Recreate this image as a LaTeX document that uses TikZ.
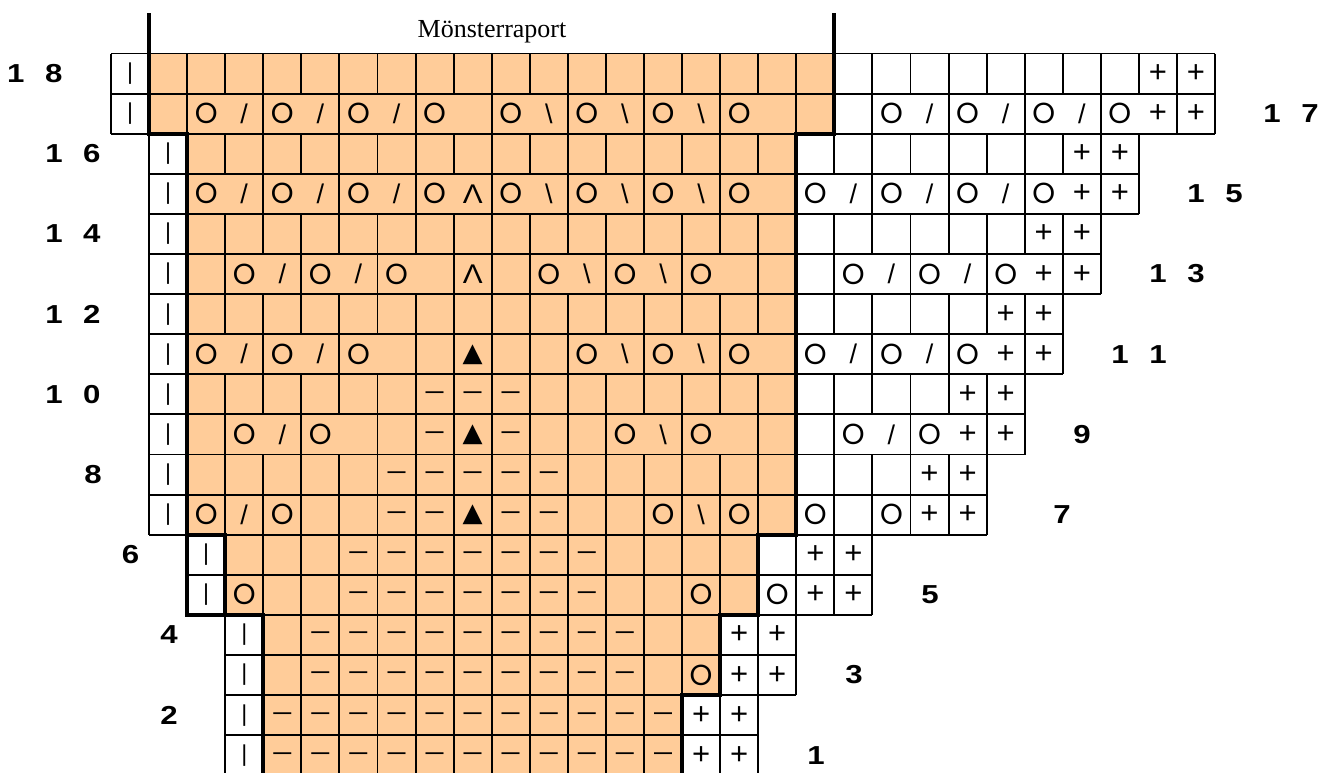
\documentclass[tikz,border=0pt]{standalone}
\usepackage{graphicx}
\usepackage{fontspec}
\setmainfont{Liberation Sans}
\newfontfamily\trif{DejaVu Sans}
\newfontfamily\serf{Liberation Serif}
\newfontfamily\geo{Poppins}
\definecolor{orng}{HTML}{FFCC99}
\tikzset{
  gridline/.style={line width=1.9pt,draw=black,line cap=square},
  outline/.style={line width=3.8pt,draw=black,line cap=butt},
  sym/.style={inner sep=0pt,anchor=center},
  lbl/.style={inner sep=0pt,anchor=center,font=\bfseries\fontsize{26}{26}\selectfont},
}
\newcommand\lb[1]{\scalebox{1.2}[1]{\spaceskip=17.1pt\relax #1}}
\def\kO{\geo\fontsize{29}{29}\selectfont O}
\def\ks{\fontsize{27}{27}\selectfont /}
\def\kb{\fontsize{27}{27}\selectfont\textbackslash}
\def\kL{\scalebox{1.1}[1]{\fontsize{27}{27}\selectfont Λ}}
\def\kT{\trif\fontsize{26}{26}\selectfont ▲}
\def\km{\bfseries\fontsize{18}{18}\selectfont —}
\def\kp{\fontsize{31}{31}\selectfont +}
\def\kv{\fontsize{23}{23}\selectfont\textbar}
\newcommand\knitrow[5]{%
  \pgfmathsetmacro\ytop{53.5+40.1*(18-#1)}%
  \foreach \s [count=\j from 0] in {#5}{%
    \pgfmathtruncatemacro\c{#2+\j}%
    \pgfmathsetmacro\xl{111+38.07*\c}%
    \ifnum\c<#3\relax\def\fc{white}\else\ifnum\c>#4\relax\def\fc{white}\else\def\fc{orng}\fi\fi
    \fill[\fc] (\xl,\ytop) rectangle ++(38.07,40.1);
    \xdef\lastc{\c}%
  }%
  \gdef\prev{x}%
  \foreach \s [count=\j from 0] in {#5}{%
    \pgfmathtruncatemacro\c{#2+\j}%
    \pgfmathsetmacro\xl{111+38.07*\c}%
    \draw[gridline] (\xl,\ytop) -- ++(38.07,0);
    \draw[gridline] (\xl,\ytop+40.1) -- ++(38.07,0);
    \ifnum#1>8\relax\if\prev O\def\dov{0}\else\def\dov{1}\fi\else\def\dov{1}\fi
    \if1\dov\draw[gridline] (\xl,\ytop) -- ++(0,40.1);\fi
    \if\s.\else\node[sym] (c#1-\c) at (\xl+19.035,\ytop+20.05) {\csname k\s\endcsname};\fi
    \xdef\prev{\s}%
  }%
  \pgfmathsetmacro\xr{111+38.07*(\lastc+1)}%
  \draw[gridline] (\xr,\ytop) -- ++(0,40.1);
}
\begin{document}
\begin{tikzpicture}[x=1pt,y=-1pt]
\useasboundingbox (0,0) rectangle (1321,772);
\clip (0,0) rectangle (1321,772);
\fill[white] (0,0) rectangle (1321,772);
\knitrow{18}{0}{1}{18}{v,.,.,.,.,.,.,.,.,.,.,.,.,.,.,.,.,.,.,.,.,.,.,.,.,.,.,p,p}
\knitrow{17}{0}{1}{18}{v,.,O,s,O,s,O,s,O,.,O,b,O,b,O,b,O,.,.,.,O,s,O,s,O,s,O,p,p}
\knitrow{16}{1}{2}{17}{v,.,.,.,.,.,.,.,.,.,.,.,.,.,.,.,.,.,.,.,.,.,.,.,p,p}
\knitrow{15}{1}{2}{17}{v,O,s,O,s,O,s,O,L,O,b,O,b,O,b,O,.,O,s,O,s,O,s,O,p,p}
\knitrow{14}{1}{2}{17}{v,.,.,.,.,.,.,.,.,.,.,.,.,.,.,.,.,.,.,.,.,.,.,p,p}
\knitrow{13}{1}{2}{17}{v,.,O,s,O,s,O,.,L,.,O,b,O,b,O,.,.,.,O,s,O,s,O,p,p}
\knitrow{12}{1}{2}{17}{v,.,.,.,.,.,.,.,.,.,.,.,.,.,.,.,.,.,.,.,.,.,p,p}
\knitrow{11}{1}{2}{17}{v,O,s,O,s,O,.,.,T,.,.,O,b,O,b,O,.,O,s,O,s,O,p,p}
\knitrow{10}{1}{2}{17}{v,.,.,.,.,.,.,m,m,m,.,.,.,.,.,.,.,.,.,.,.,p,p}
\knitrow{9}{1}{2}{17}{v,.,O,s,O,.,.,m,T,m,.,.,O,b,O,.,.,.,O,s,O,p,p}
\knitrow{8}{1}{2}{17}{v,.,.,.,.,.,m,m,m,m,m,.,.,.,.,.,.,.,.,.,p,p}
\knitrow{7}{1}{2}{17}{v,O,s,O,.,.,m,m,T,m,m,.,.,O,b,O,.,O,.,O,p,p}
\knitrow{6}{2}{3}{16}{v,.,.,.,m,m,m,m,m,m,m,.,.,.,.,.,p,p}
\knitrow{5}{2}{3}{16}{v,O,.,.,m,m,m,m,m,m,m,.,.,O,.,O,p,p}
\knitrow{4}{3}{4}{15}{v,.,m,m,m,m,m,m,m,m,m,.,.,p,p}
\knitrow{3}{3}{4}{15}{v,.,m,m,m,m,m,m,m,m,m,.,O,p,p}
\knitrow{2}{3}{4}{14}{v,m,m,m,m,m,m,m,m,m,m,m,p,p}
\knitrow{1}{3}{4}{14}{v,m,m,m,m,m,m,m,m,m,m,m,p,p}
% thick outline of the pattern repeat
\draw[outline] (149.07,13) -- (149.07,133.7) -- (187.14,133.7) -- (187.14,534.7) -- (225.21,534.7) -- (225.21,614.9) -- (263.28,614.9) -- (263.28,780);
\draw[outline] (187.14,534.7) -- (187.14,614.9) -- (225.21,614.9);
\draw[outline] (834.33,13) -- (834.33,133.7) -- (796.26,133.7) -- (796.26,534.7) -- (758.19,534.7) -- (758.19,614.9) -- (720.12,614.9) -- (720.12,695.1) -- (682.05,695.1) -- (682.05,780);
\node[font=\serf\fontsize{26}{26}\selectfont,anchor=base,inner sep=0pt] (title) at (492,37.7) {Mönsterraport};
% row numbers
\node[lbl] (l18) at (34.85,73.55) {\lb{1 8}};
\node[lbl] (l16) at (72.95,153.75) {\lb{1 6}};
\node[lbl] (l14) at (72.95,233.95) {\lb{1 4}};
\node[lbl] (l12) at (72.95,314.15) {\lb{1 2}};
\node[lbl] (l10) at (72.95,394.35) {\lb{1 0}};
\node[lbl] (l8) at (93,474.55) {\lb{8}};
\node[lbl] (l6) at (130.5,554.75) {\lb{6}};
\node[lbl] (l4) at (169,634.95) {\lb{4}};
\node[lbl] (l2) at (169,715.15) {\lb{2}};
\node[lbl] (r17) at (1291,113.65) {\lb{1 7}};
\node[lbl] (r15) at (1215,193.85) {\lb{1 5}};
\node[lbl] (r13) at (1177,274.05) {\lb{1 3}};
\node[lbl] (r11) at (1139,354.25) {\lb{1 1}};
\node[lbl] (r9) at (1082,434.45) {\lb{9}};
\node[lbl] (r7) at (1062,514.65) {\lb{7}};
\node[lbl] (r5) at (930,594.85) {\lb{5}};
\node[lbl] (r3) at (854,675.05) {\lb{3}};
\node[lbl] (r1) at (816,755.25) {\lb{1}};
\end{tikzpicture}
\end{document}
